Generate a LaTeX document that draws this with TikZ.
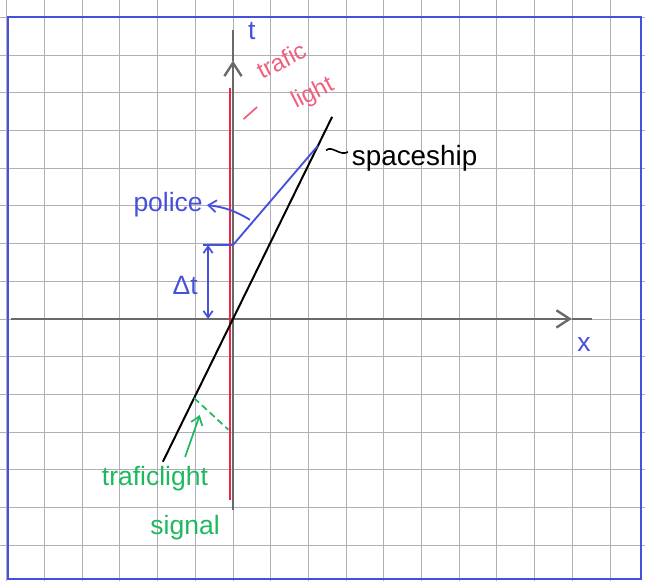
\documentclass[tikz,border=0pt]{standalone}
\usepackage{fontspec}
\setmainfont{Liberation Sans}
\usetikzlibrary{arrows.meta}
\definecolor{penblue}{RGB}{70,80,220}
\definecolor{penred}{RGB}{232,40,70}
\definecolor{pinkred}{RGB}{240,95,125}
\definecolor{pengreen}{RGB}{30,185,95}
\definecolor{pencil}{RGB}{105,105,105}
\definecolor{gridc}{RGB}{175,175,182}
\begin{document}
\begin{tikzpicture}[
  hand/.style={font=\fontsize{20}{22}\selectfont, inner sep=0pt},
  axisline/.style={pencil, line width=2pt},
  axbarb/.style={-{Straight Barb[length=10pt,width=13pt,line width=1.8pt]}},
  bluepen/.style={penblue, line width=1.4pt},
  dblbarb/.style={{Straight Barb[length=5pt,width=7pt,line width=1.3pt]}-{Straight Barb[length=5pt,width=7pt,line width=1.3pt]}},
  onebarb/.style={-{Straight Barb[length=6pt,width=9pt,line width=1.3pt]}},
]
\useasboundingbox (-6.18,-6.95) rectangle (10.93,8.46);
% squared paper
\draw[gridc, line width=0.6pt] (-6.18,-6.95) grid (10.93,8.46);
\draw[penblue, line width=1.3pt] (-5.97,8.01) rectangle (10.82,-6.90);

% coordinates
\coordinate (xstart) at (-5.89,0);
\coordinate (xtip) at (8.99,0);
\coordinate (xend) at (9.52,0);
\coordinate (tbot) at (0,-5.07);
\coordinate (ttip) at (0,6.85);
\coordinate (ttop) at (0,7.67);
\coordinate (rbot) at (-0.08,-4.8);
\coordinate (rtop) at (-0.08,6.13);
\coordinate (sbot) at (-1.86,-3.79);
\coordinate (stop) at (2.63,5.36);
\coordinate (pstart) at (0,1.96);
\coordinate (pend) at (2.25,4.59);
\coordinate (ptick) at (-0.8,1.96);
\coordinate (dtop) at (-0.66,1.96);
\coordinate (dbot) at (-0.66,0);
\coordinate (parrow) at (0.45,2.63);
\coordinate (rconA) at (0.28,5.30);
\coordinate (rconB) at (0.64,5.62);
\coordinate (sconA) at (2.47,4.47);
\coordinate (sconB) at (3.05,4.43);
\coordinate (gA) at (-1.03,-2.10);
\coordinate (gB) at (-0.12,-2.94);
\coordinate (gst) at (-1.27,-3.66);
\coordinate (gtip) at (-0.88,-2.55);

% axes
\draw[axisline, axbarb] (xstart) -- (xtip);
\draw[axisline] (xtip) -- (xend);
\draw[axisline, axbarb] (tbot) -- (ttip);
\draw[axisline] (ttip) -- (ttop);

% traffic light world line
\draw[penred, line width=1.8pt] (rbot) -- (rtop);

% spaceship world line
\draw[black, line width=1.5pt] (sbot) -- (stop);

% police
\draw[bluepen] (pstart) -- (pend);
\draw[bluepen] (ptick) -- (pstart);
\draw[bluepen, dblbarb] (dtop) -- (dbot);

% labels
\node[hand, penblue] (tlab) at (0.50,7.64) {t};
\node[hand, penblue] (xlab) at (9.31,-0.69) {x};
\node[hand, penblue] (dtlab) at (-1.27,0.90) {Δt};
\node[hand, penblue] (police) at (-1.72,3.02) {police};
\draw[bluepen, onebarb] (parrow) to[bend right=12] ([xshift=3pt]police.east);

\node[hand, anchor=west, font=\fontsize{21}{23}\selectfont] (ship) at (3.15,4.27) {spaceship};
\draw[black, line width=1.2pt] (sconA) .. controls (2.62,4.62) and (2.85,4.30) .. (sconB);

\node[hand, pinkred, rotate=27, font=\fontsize{18}{20}\selectfont] (tl1) at (1.28,6.86) {trafic};
\node[hand, pinkred, rotate=27, font=\fontsize{18}{20}\selectfont] (tl2) at (2.12,5.98) {light};
\draw[pinkred, line width=1.3pt] (rconA) -- (rconB);

% traffic light signal
\draw[pengreen, line width=1.3pt, dash pattern=on 5pt off 3pt] (gA) -- (gB);
\node[hand, pengreen] (sig1) at (-2.07,-4.24) {traficlight};
\node[hand, pengreen] (sig2) at (-1.27,-5.55) {signal};
\draw[pengreen, line width=1.3pt, onebarb] (gst) -- (gtip);
\end{tikzpicture}
\end{document}
